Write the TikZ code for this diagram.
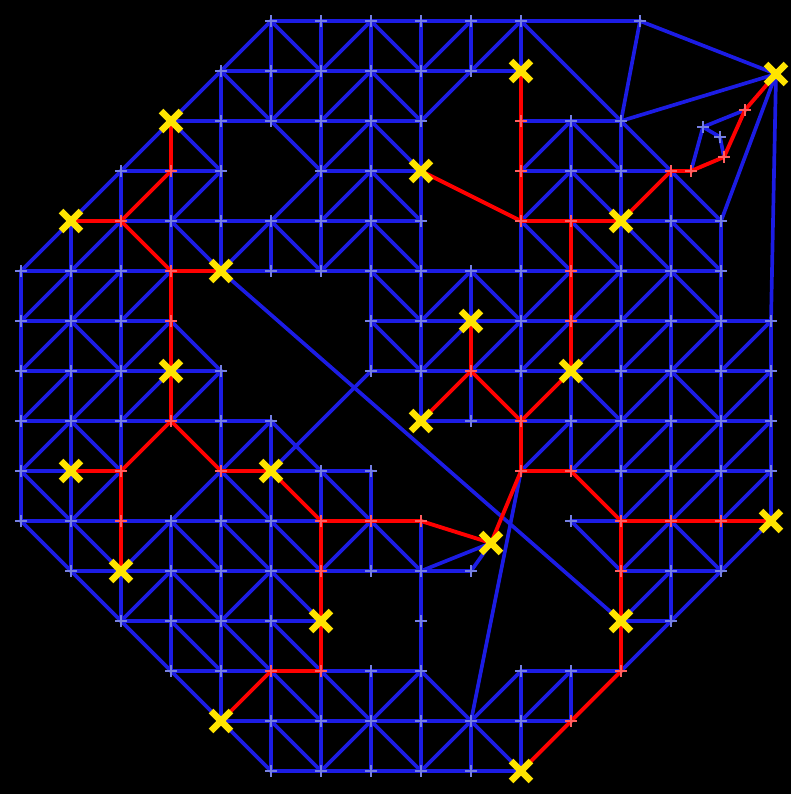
\documentclass[tikz,border=0pt]{standalone}
\usetikzlibrary{shapes.misc}
\definecolor{meshblue}{RGB}{28,28,228}
\definecolor{markblue}{RGB}{118,128,226}
\definecolor{routered}{RGB}{255,0,0}
\definecolor{markred}{RGB}{255,95,95}
\definecolor{goalyellow}{RGB}{255,228,0}
\tikzset{
  edge/.style={draw=meshblue, line width=2.1pt, line cap=round},
  redge/.style={draw=routered, line width=2.2pt, line cap=round},
  vmark/.style={cross out, rotate=45, draw=markblue, line width=1.6pt, minimum size=3pt, inner sep=0pt},
  rmark/.style={vmark, draw=markred},
  goal/.style={cross out, draw=goalyellow, line width=3.8pt, minimum size=7.5pt, inner sep=0pt}
}

\begin{document}
\begin{tikzpicture}[x=0.02cm, y=-0.02cm]

% Black canvas
\fill[black] (0,0) rectangle (791,794);

% Grid points, 50px apart
\foreach \c in {0,...,15}
  \foreach \r in {0,...,15}
    \coordinate (v\c-\r) at ({21+50*\c},{21+50*\r});

% Off-grid points
\coordinate (vT1) at (640,21);
\coordinate (vT2) at (776,74);
\coordinate (vY1) at (491,543);
\coordinate (vA) at (703,127);
\coordinate (vB) at (720,137);
\coordinate (vC) at (724,157);
\coordinate (vD) at (745,110);
\coordinate (vE) at (691,171);

% Horizontal runs (row/from/to)
\foreach \r/\a/\b in {0/5/10, 1/4/10, 2/3/8, 2/10/12, 3/2/4, 3/6/8, 3/10/13,
    4/2/8, 4/12/14, 5/0/3, 5/4/14, 6/0/3, 6/7/15, 7/0/4, 7/7/15,
    8/0/5, 8/8/15, 9/0/1, 9/5/7, 9/11/15, 10/0/6, 10/11/12,
    11/1/9, 11/12/14, 12/2/6, 12/12/13, 13/3/5, 13/6/8, 13/10/12,
    14/4/11, 15/5/10}
  \draw[edge] (v\a-\r) -- (v\b-\r);

% Vertical runs (column/from/to)
\foreach \c/\a/\b in {0/5/10, 1/4/11, 2/3/9, 2/11/12, 3/3/5, 3/10/13,
    4/1/5, 4/7/14, 5/0/2, 5/4/5, 5/8/15, 6/0/5, 6/9/10, 6/13/15,
    7/0/7, 7/9/11, 7/13/15, 8/0/8, 8/10/15, 9/0/1, 9/5/6, 9/7/8, 9/14/15,
    10/0/1, 10/4/8, 10/13/15, 11/2/4, 11/7/9, 11/13/14,
    12/2/10, 13/3/12, 14/4/11, 15/6/10}
  \draw[edge] (v\c-\a) -- (v\c-\b);

% Diagonals and long links
\foreach \a/\b in {5-0/4-1, 5-0/6-1, 7-0/6-1, 7-0/8-1, 9-0/8-1, 10-0/9-1,
    10-0/12-2, 10-0/T1, T1/12-2, T1/T2, 12-2/T2,
    4-1/3-2, 4-1/5-2, 6-1/5-2, 7-1/6-2, 7-1/8-2, 9-1/8-2,
    3-2/2-3, 3-2/4-3, 5-2/6-3, 7-2/6-3, 7-2/8-3, 11-2/10-3, 11-2/12-3, 12-2/13-3,
    2-3/1-4, 4-3/3-4, 6-3/5-4, 7-3/6-4, 7-3/8-4, 11-3/10-4, 11-3/12-4, 13-3/14-4, T2/14-4,
    1-4/0-5, 2-4/1-5, 3-4/4-5, 5-4/4-5, 5-4/6-5, 7-4/6-5, 7-4/8-5,
    10-4/11-5, 11-4/12-5, 12-4/13-5, 13-4/14-5,
    1-5/0-6, 2-5/1-6, 3-5/2-6, 7-5/8-6, 9-5/8-6, 9-5/10-6,
    11-5/10-6, 12-5/11-6, 13-5/12-6, 13-5/14-6, T2/15-6,
    1-6/0-7, 1-6/2-7, 3-6/2-7, 3-6/4-7, 7-6/8-7, 9-6/8-7, 10-6/9-7,
    11-6/10-7, 12-6/11-7, 13-6/12-7, 14-6/13-7, 15-6/14-7,
    1-7/0-8, 2-7/1-8, 3-7/2-8, 4-7/3-8, 11-7/12-8, 13-7/12-8, 13-7/14-8, 15-7/14-8,
    7-7/5-9, 4-5/12-12,
    1-8/0-9, 1-8/2-9, 5-8/4-9, 5-8/6-9, 11-8/10-9, 12-8/11-9, 13-8/12-9,
    14-8/13-9, 15-8/14-9,
    0-9/1-10, 2-9/1-10, 4-9/3-10, 4-9/5-10, 6-9/7-10,
    13-9/12-10, 14-9/13-10, 15-9/14-10, 10-9/9-14,
    0-10/1-11, 1-10/2-11, 3-10/2-11, 3-10/4-11, 4-10/5-11, 5-10/6-11,
    7-10/6-11, 7-10/8-11, Y1/8-11, Y1/9-11,
    11-10/12-11, 13-10/12-11, 13-10/14-11, 15-10/14-11,
    1-11/2-12, 3-11/2-12, 3-11/4-12, 5-11/4-12, 5-11/6-12, 13-11/12-12, 14-11/13-12,
    2-12/3-13, 3-12/4-13, 4-12/5-13, 5-12/6-13, 13-12/12-13,
    3-13/4-14, 5-13/6-14, 6-13/7-14, 8-13/7-14, 8-13/9-14, 10-13/9-14, 11-13/10-14,
    4-14/5-15, 5-14/6-15, 7-14/6-15, 7-14/8-15, 9-14/8-15, 9-14/10-15,
    E/A, A/B, B/C, A/D}
  \draw[edge] (v\a) -- (v\b);

% Red routes
\foreach \a/\b in {3-2/3-3, 3-3/2-4, 2-4/1-4, 2-4/3-5, 3-5/4-5, 3-5/3-8,
    3-8/2-9, 2-9/1-9, 2-9/2-11, 3-8/4-9, 4-9/5-9, 5-9/6-10,
    6-10/6-13, 6-13/5-13, 5-13/4-14, 6-10/8-10, 8-10/Y1, Y1/10-9,
    10-9/10-8, 10-8/9-7, 9-7/9-6, 9-7/8-8, 10-8/11-7, 11-7/11-4,
    11-4/10-4, 10-4/12-4, 10-4/10-1, 10-4/8-3,
    12-4/13-3, 13-3/E, E/C, C/D, D/T2,
    10-9/11-9, 11-9/12-10, 12-10/15-10, 12-10/12-13, 12-13/11-14, 11-14/10-15}
  \draw[redge] (v\a) -- (v\b);

% Vertex markers
\foreach \p in {5-0, 6-0, 7-0, 8-0, 9-0, 10-0, T1,
    4-1, 5-1, 6-1, 7-1, 8-1, 9-1,
    4-2, 5-2, 6-2, 7-2, 8-2, 11-2, 12-2,
    2-3, 4-3, 6-3, 7-3, 11-3, 12-3,
    3-4, 4-4, 5-4, 6-4, 7-4, 8-4, 13-4, 14-4,
    0-5, 1-5, 2-5, 5-5, 6-5, 7-5, 8-5, 9-5, 10-5, 12-5, 13-5, 14-5,
    0-6, 1-6, 2-6, 7-6, 8-6, 10-6, 12-6, 13-6, 14-6, 15-6,
    0-7, 1-7, 2-7, 4-7, 7-7, 8-7, 10-7, 12-7, 13-7, 14-7, 15-7,
    0-8, 1-8, 2-8, 4-8, 5-8, 9-8, 11-8, 12-8, 13-8, 14-8, 15-8,
    0-9, 6-9, 7-9, 12-9, 13-9, 14-9, 15-9,
    0-10, 1-10, 3-10, 4-10, 5-10, 11-10,
    1-11, 3-11, 4-11, 5-11, 7-11, 8-11, 9-11, 13-11, 14-11,
    2-12, 3-12, 4-12, 5-12, 8-12, 13-12,
    3-13, 4-13, 7-13, 8-13, 10-13, 11-13,
    5-14, 6-14, 7-14, 8-14, 9-14, 10-14,
    5-15, 6-15, 7-15, 8-15, 9-15, A, B}
  \node[vmark] (m\p) at (v\p) {};

\foreach \p in {3-3, 2-4, 3-5, 3-6, 3-8, 2-9, 2-10, 4-9, 6-10, 6-11, 6-13,
    5-13, 7-10, 8-10, 10-9, 10-8, 9-7, 11-6, 11-5, 11-4, 10-4, 10-3, 10-2,
    13-3, E, C, D, 11-9, 12-10, 13-10, 14-10, 12-11, 12-13, 11-14}
  \node[rmark] (m\p) at (v\p) {};

% Goal crosses
\foreach \p in {3-2, 1-4, 4-5, 3-7, 1-9, 2-11, 5-9, 6-12, 4-14, Y1,
    8-8, 9-6, 11-7, 10-1, 8-3, 12-4, T2, 15-10, 12-12, 10-15}
  \node[goal] (g\p) at (v\p) {};

\end{tikzpicture}
\end{document}
